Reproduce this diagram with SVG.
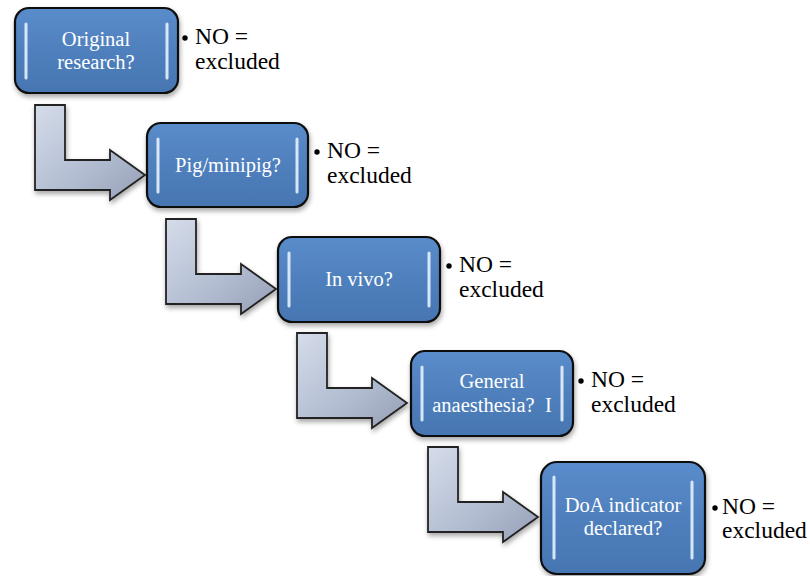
<svg xmlns="http://www.w3.org/2000/svg" width="810" height="576" viewBox="0 0 810 576">
<defs>
<linearGradient id="boxg" x1="0" y1="0" x2="0" y2="1">
<stop offset="0" stop-color="#5a8ccb"/>
<stop offset="0.5" stop-color="#4f80bd"/>
<stop offset="1" stop-color="#4676b2"/>
</linearGradient>
<linearGradient id="arrg" x1="0" y1="0" x2="1" y2="1">
<stop offset="0" stop-color="#d5dcea"/>
<stop offset="0.6" stop-color="#b0bbd0"/>
<stop offset="1" stop-color="#949fb6"/>
</linearGradient>
<filter id="sh" x="-10%" y="-10%" width="125%" height="130%">
<feDropShadow dx="1" dy="3" stdDeviation="2.5" flood-color="#000" flood-opacity="0.35"/>
</filter>
<path id="arrow" d="M0,0 H30 V55 H75 V45 L110,70 L75,95 V85 H0 Z"/>
</defs>
<style>
.box{fill:url(#boxg);stroke:#111;stroke-width:2.2;filter:url(#sh)}
.hl{stroke:#e6f2ff;stroke-width:3;stroke-linecap:round;opacity:0.9}
.lbl{font-family:"Liberation Serif","Times New Roman",serif;font-size:20.5px;fill:#fff;text-anchor:middle}
.note{font-family:"Liberation Serif","Times New Roman",serif;font-size:23.5px;fill:#000}
.arr{fill:url(#arrg);stroke:#222;stroke-width:1.8;stroke-linejoin:miter;filter:url(#sh)}
</style>
<rect width="810" height="576" fill="#fff"/>
<g id="connectors">
<use href="#arrow" class="arr" transform="translate(35,105)"/>
<use href="#arrow" class="arr" transform="translate(166,219)"/>
<use href="#arrow" class="arr" transform="translate(297,333)"/>
<use href="#arrow" class="arr" transform="translate(428,447)"/>
</g>
<g id="node1">
<rect class="box" x="15" y="8" width="163" height="85" rx="14"/>
<line class="hl" x1="26" y1="24" x2="26" y2="78"/>
<line class="hl" x1="167" y1="24" x2="167" y2="78"/>
<text class="lbl" x="96" y="46">Original</text>
<text class="lbl" x="96" y="69">research?</text>
<circle cx="185" cy="38" r="2.7" fill="#000"/>
<text class="note" x="195" y="44">NO =</text>
<text class="note" x="195" y="69">excluded</text>
</g>
<g id="node2">
<rect class="box" x="147" y="123" width="161" height="84" rx="14"/>
<line class="hl" x1="158" y1="139" x2="158" y2="192"/>
<line class="hl" x1="297" y1="139" x2="297" y2="192"/>
<text class="lbl" x="228" y="172">Pig/minipig?</text>
<circle cx="317" cy="152" r="2.7" fill="#000"/>
<text class="note" x="327" y="158">NO =</text>
<text class="note" x="327" y="183">excluded</text>
</g>
<g id="node3">
<rect class="box" x="278" y="237" width="162" height="85" rx="14"/>
<line class="hl" x1="289" y1="253" x2="289" y2="306"/>
<line class="hl" x1="429" y1="253" x2="429" y2="306"/>
<text class="lbl" x="359" y="286">In vivo?</text>
<circle cx="449" cy="266" r="2.7" fill="#000"/>
<text class="note" x="459" y="272">NO =</text>
<text class="note" x="459" y="297">excluded</text>
</g>
<g id="node4">
<rect class="box" x="411" y="351" width="162" height="85" rx="14"/>
<line class="hl" x1="422" y1="367" x2="422" y2="420"/>
<line class="hl" x1="562" y1="367" x2="562" y2="420"/>
<text class="lbl" x="492" y="388">General</text>
<text class="lbl" x="492" y="412" xml:space="preserve">anaesthesia?  I</text>
<circle cx="581" cy="381" r="2.7" fill="#000"/>
<text class="note" x="591" y="387">NO =</text>
<text class="note" x="591" y="412">excluded</text>
</g>
<g id="node5">
<rect class="box" x="541" y="462" width="164" height="112" rx="16"/>
<line class="hl" x1="554" y1="477" x2="554" y2="558"/>
<line class="hl" x1="692" y1="482" x2="692" y2="558"/>
<text class="lbl" x="623" y="512">DoA indicator</text>
<text class="lbl" x="623" y="535">declared?</text>
<circle cx="715" cy="508" r="2.7" fill="#000"/>
<text class="note" x="722" y="514">NO =</text>
<text class="note" x="722" y="538">excluded</text>
</g>
</svg>
